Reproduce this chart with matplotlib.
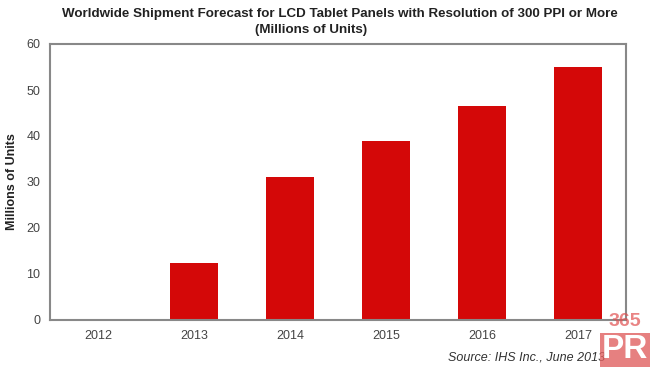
import matplotlib
matplotlib.use("Agg")
import matplotlib.pyplot as plt

years = ["2012", "2013", "2014", "2015", "2016", "2017"]
shipments = [0, 12.5, 31, 39, 46.5, 55]
yticks = [0, 10, 20, 30, 40, 50, 60]

plt.rcParams['font.family'] = ['Liberation Sans', 'DejaVu Sans']

fig = plt.figure(figsize=(6.5, 3.72), dpi=100)
ax = fig.add_axes([50/650, 1 - 320/372, (626-50)/650, (320-44)/372])
ax.bar(range(len(years)), shipments, width=0.5, color="#D40808")
ax.set_xlim(-0.5, len(years) - 0.5)
ax.set_ylim(0, 60)
ax.set_yticks(yticks)
ax.set_xticks(range(len(years)))
ax.set_xticklabels(years)
ax.tick_params(length=0, labelsize=9, colors="#444444", pad=7)
for s in ax.spines.values():
    s.set_color("#888888")
    s.set_linewidth(1.5)
ax.set_ylabel("Millions of Units", fontsize=9, fontweight="bold", labelpad=6, color="#222222")

fig.text(340/650, 1 - 14/372, "Worldwide Shipment Forecast for LCD Tablet Panels with Resolution of 300 PPI or More",
         ha="center", va="center", fontsize=9.6, fontweight="bold", color="#222222")
fig.text(311/650, 1 - 30/372, "(Millions of Units)", ha="center", va="center",
         fontsize=9.6, fontweight="bold", color="#222222")
fig.text(605/650, 1 - 358/372, "Source: IHS Inc., June 2013", ha="right", va="center",
         fontsize=9, style="italic", color="#333333")
fig.text(625/650, 1 - 322/372, "365", ha="center", va="center", fontsize=14,
         fontweight="bold", color="#E05050", alpha=0.7)
fig.text(625/650, 1 - 350/372, "PR", ha="center", va="center", fontsize=24,
         fontweight="bold", color="white",
         bbox=dict(facecolor="#E06060", edgecolor="none", alpha=0.8, pad=1))

fig.savefig("out.png", dpi=100)
